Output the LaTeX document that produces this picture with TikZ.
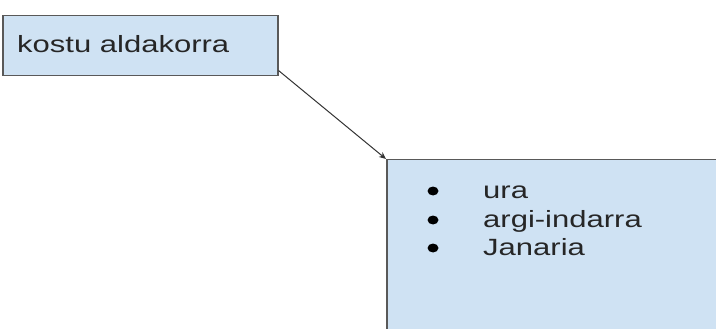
\documentclass[tikz,border=0pt]{standalone}
\usepackage{fontspec}
\setmainfont{Liberation Sans}
\usetikzlibrary{arrows.meta,shapes.geometric}
\definecolor{boxfill}{HTML}{CFE2F3}
\definecolor{boxline}{HTML}{595959}
\definecolor{arrowline}{HTML}{333333}
\begin{document}
\begin{tikzpicture}[x=1pt,y=-1pt,
  boxstyle/.style={draw=boxline, fill=boxfill, line width=1.5pt, inner sep=0pt, anchor=north west},
  txt/.style={font=\fontsize{23.5}{28.5}\selectfont, inner sep=0pt, anchor=base west, text=black!85},
  dot/.style={ellipse, fill=black, minimum width=11pt, minimum height=9pt, inner sep=0pt},
  conn/.style={draw=arrowline, line width=1pt, -{Stealth[length=7pt,width=6pt]}}
]
\useasboundingbox (0,0) rectangle (716,329);
\begin{scope}
\clip (0,0) rectangle (716,329);
\node[boxstyle, minimum width=275pt, minimum height=60pt] (box1) at (2,15) {};
\node[boxstyle, minimum width=340pt, minimum height=180pt] (box2) at (386,159) {};
\end{scope}
\node[txt] (t1) at (17,53) {\scalebox{1.32}[1]{kostu aldakorra}};
\node[dot] (b1) at (433,191) {};
\node[dot] (b2) at (433,220) {};
\node[dot] (b3) at (433,248) {};
\node[txt] (l1) at (483,198) {\scalebox{1.32}[1]{ura}};
\node[txt] (l2) at (483,227) {\scalebox{1.32}[1]{argi-indarra}};
\node[txt] (l3) at (483,255) {\scalebox{1.32}[1]{Janaria}};
\draw[conn] ([yshift=6pt]box1.south east) -- (box2.north west);
\end{tikzpicture}
\end{document}
